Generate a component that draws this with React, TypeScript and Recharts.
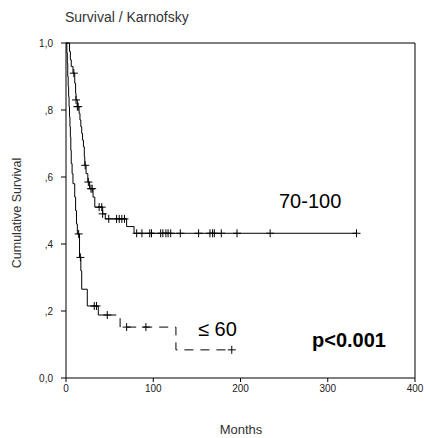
import React from 'react';
import { ComposedChart, Line, Scatter, XAxis, YAxis, ReferenceLine } from 'recharts';

// Karnofsky 70-100 group: step times (months) and survival after each step
const highTimes = [0, 4, 5, 6, 8, 10, 11, 11.5, 13, 15, 16, 17, 18, 19, 20, 21, 21.5, 23, 25, 27, 31, 33, 42, 45, 69.5, 78, 333];
const highSurv = [1.0, 0.975, 0.95, 0.93, 0.91, 0.88, 0.85, 0.83, 0.81, 0.79, 0.77, 0.75, 0.73, 0.71, 0.69, 0.66, 0.635, 0.61, 0.585, 0.565, 0.54, 0.51, 0.49, 0.475, 0.452, 0.432, 0.432];
const highCensorTimes = [9, 11.5, 13, 14, 22, 25.6, 28.6, 30, 38, 41, 42, 49, 58, 61, 64, 67, 81, 87, 96, 98, 108.5, 111, 114.5, 117, 120, 131, 152, 165, 168, 170, 178, 196, 234, 333];
const highCensorSurv = [0.91, 0.83, 0.81, 0.81, 0.635, 0.585, 0.565, 0.565, 0.51, 0.51, 0.49, 0.475, 0.475, 0.475, 0.475, 0.475, 0.432, 0.432, 0.432, 0.432, 0.432, 0.432, 0.432, 0.432, 0.432, 0.432, 0.432, 0.432, 0.432, 0.432, 0.432, 0.432, 0.432, 0.432];

// Karnofsky <= 60 group
const lowTimes = [0, 1, 1.5, 2, 2.5, 3, 3.5, 4, 4.5, 5, 5.5, 6, 7, 8, 10, 11, 12, 13, 15.5, 17, 18, 24.4, 37, 47.3];
const lowSurv = [1.0, 0.97, 0.94, 0.9, 0.87, 0.84, 0.81, 0.78, 0.75, 0.72, 0.68, 0.64, 0.61, 0.58, 0.54, 0.5, 0.46, 0.43, 0.36, 0.32, 0.265, 0.215, 0.188, 0.188];
const lowTailTimes = [47.3, 62, 126, 190];
const lowTailSurv = [0.188, 0.152, 0.084, 0.084];
const lowCensorTimes = [14.5, 16.5, 32.4, 35, 47.3, 69.5, 91.6, 190];
const lowCensorSurv = [0.43, 0.36, 0.215, 0.215, 0.188, 0.152, 0.152, 0.084];

const xTicks = [0, 100, 200, 300, 400];
const yTicks = [0, 0.2, 0.4, 0.6, 0.8, 1.0];
const yTickLabels = ['0,0', ',2', ',4', ',6', ',8', '1,0'];

const zip = (ts: number[], ss: number[]) => ts.map((t, i) => ({ t, s: ss[i] }));

const highData = zip(highTimes, highSurv);
const highCensor = zip(highCensorTimes, highCensorSurv);
const lowData = zip(lowTimes, lowSurv);
const lowTail = zip(lowTailTimes, lowTailSurv);
const lowCensor = zip(lowCensorTimes, lowCensorSurv);

const FONT = '"Liberation Sans", Arial, sans-serif';

const Plus = (props: any) => {
  const { cx, cy } = props;
  if (cx == null || cy == null) return <g />;
  return (
    <g stroke="#000" strokeWidth={1}>
      <line x1={cx - 4} x2={cx + 4} y1={cy} y2={cy} />
      <line x1={cx} x2={cx} y1={cy - 4} y2={cy + 4} />
    </g>
  );
};

export default function App() {
  return (
    <div style={{ position: 'absolute', left: 0, top: 0, width: 424, height: 438, background: '#fff' }}>
      <ComposedChart width={424} height={438} margin={{ top: 43, right: 9, bottom: 30, left: 26 }}>
        <XAxis
          dataKey="t"
          type="number"
          domain={[0, 400]}
          ticks={xTicks}
          allowDataOverflow
          height={30}
          tickSize={4}
          tickMargin={3}
          stroke="#000"
          tick={{ fontSize: 10, fontFamily: FONT, fill: '#222' }}
        />
        <YAxis
          type="number"
          domain={[0, 1]}
          ticks={yTicks}
          width={40}
          tickSize={5}
          tickMargin={8}
          stroke="#000"
          tickFormatter={(v: number) => yTickLabels[yTicks.indexOf(v)] ?? ''}
          tick={{ fontSize: 10, fontFamily: FONT, fill: '#222' }}
        />
        <ReferenceLine y={1} stroke="#000" strokeWidth={1} />
        <ReferenceLine x={400} stroke="#000" strokeWidth={1} />
        <Line data={highData} dataKey="s" type="stepAfter" dot={false} stroke="#000" strokeWidth={1} isAnimationActive={false} />
        <Line data={lowData} dataKey="s" type="stepAfter" dot={false} stroke="#000" strokeWidth={1} isAnimationActive={false} />
        <Line data={lowTail} dataKey="s" type="stepAfter" dot={false} stroke="#000" strokeWidth={1} strokeDasharray="9 7" isAnimationActive={false} />
        <Scatter data={highCensor} dataKey="s" shape={<Plus />} isAnimationActive={false} />
        <Scatter data={lowCensor} dataKey="s" shape={<Plus />} isAnimationActive={false} />
      </ComposedChart>
      <svg width={424} height={438} style={{ position: 'absolute', left: 0, top: 0, pointerEvents: 'none' }}>
        <text x={65} y={22} fontSize={14} fontFamily={FONT} fill="#333">Survival / Karnofsky</text>
        <text x={21} y={213} fontSize={12.5} fontFamily={FONT} fill="#333" textAnchor="middle" transform="rotate(-90 21 213)">Cumulative Survival</text>
        <text x={241} y={434} fontSize={13} fontFamily={FONT} fill="#333" textAnchor="middle">Months</text>
        <text x={279} y={208} fontSize={20} fontFamily={FONT} fill="#000">70-100</text>
        <text x={198} y={336} fontSize={20} fontFamily={FONT} fill="#000">≤ 60</text>
        <text x={312} y={347} fontSize={20} fontWeight="bold" fontFamily={FONT} fill="#000">p&lt;0.001</text>
      </svg>
    </div>
  );
}
